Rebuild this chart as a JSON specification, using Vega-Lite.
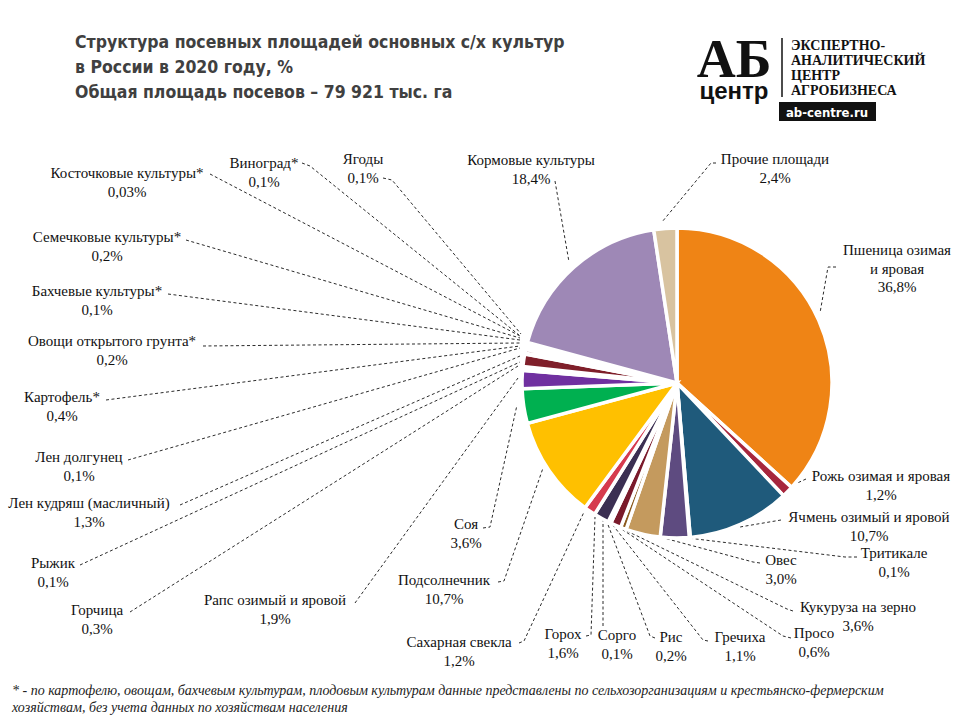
{
  "$schema": "https://vega.github.io/schema/vega-lite/v6.json",
  "width": 960,
  "height": 720,
  "autosize": {"type": "fit", "contains": "padding"},
  "padding": 0,
  "background": "white",
  "config": {"view": {"stroke": null}},
  "datasets": {
    "slices": [
      {"i": 1, "k": "Пшеница", "v": 36.8},
      {"i": 2, "k": "Рожь", "v": 1.2},
      {"i": 3, "k": "Ячмень", "v": 10.7},
      {"i": 4, "k": "Тритикале", "v": 0.1},
      {"i": 5, "k": "Овес", "v": 3.0},
      {"i": 6, "k": "Кукуруза", "v": 3.6},
      {"i": 7, "k": "Просо", "v": 0.6},
      {"i": 8, "k": "Гречиха", "v": 1.1},
      {"i": 9, "k": "Рис", "v": 0.2},
      {"i": 10, "k": "Сорго", "v": 0.1},
      {"i": 11, "k": "Горох", "v": 1.6},
      {"i": 12, "k": "Сахарная свекла", "v": 1.2},
      {"i": 13, "k": "Подсолнечник", "v": 10.7},
      {"i": 14, "k": "Соя", "v": 3.6},
      {"i": 15, "k": "Рапс", "v": 1.9},
      {"i": 16, "k": "Горчица", "v": 0.3},
      {"i": 17, "k": "Рыжик", "v": 0.1},
      {"i": 18, "k": "Лен кудряш", "v": 1.3},
      {"i": 19, "k": "Лен долгунец", "v": 0.1},
      {"i": 20, "k": "Картофель", "v": 0.4},
      {"i": 21, "k": "Овощи", "v": 0.2},
      {"i": 22, "k": "Бахчевые", "v": 0.1},
      {"i": 23, "k": "Семечковые", "v": 0.2},
      {"i": 24, "k": "Косточковые", "v": 0.03},
      {"i": 25, "k": "Виноград", "v": 0.1},
      {"i": 26, "k": "Ягоды", "v": 0.1},
      {"i": 27, "k": "Кормовые", "v": 18.4},
      {"i": 28, "k": "Прочие", "v": 2.4}
    ],
    "labels": [
      {"lx": 127, "ly": 178, "label": ["Косточковые культуры*", "0,03%"]},
      {"lx": 264, "ly": 168, "label": ["Виноград*", "0,1%"]},
      {"lx": 363, "ly": 164, "label": ["Ягоды", "0,1%"]},
      {"lx": 531, "ly": 165, "label": ["Кормовые культуры", "18,4%"]},
      {"lx": 775, "ly": 164, "label": ["Прочие площади", "2,4%"]},
      {"lx": 897, "ly": 255, "label": ["Пшеница озимая", "и яровая", "36,8%"]},
      {"lx": 881, "ly": 481, "label": ["Рожь озимая и яровая", "1,2%"]},
      {"lx": 869, "ly": 522, "label": ["Ячмень озимый и яровой", "10,7%"]},
      {"lx": 894, "ly": 558, "label": ["Тритикале", "0,1%"]},
      {"lx": 781, "ly": 565, "label": ["Овес", "3,0%"]},
      {"lx": 858, "ly": 612, "label": ["Кукуруза  на зерно", "3,6%"]},
      {"lx": 814, "ly": 638, "label": ["Просо", "0,6%"]},
      {"lx": 740, "ly": 642, "label": ["Гречиха", "1,1%"]},
      {"lx": 671, "ly": 642, "label": ["Рис", "0,2%"]},
      {"lx": 617, "ly": 640, "label": ["Сорго", "0,1%"]},
      {"lx": 563, "ly": 639, "label": ["Горох", "1,6%"]},
      {"lx": 459, "ly": 647, "label": ["Сахарная свекла", "1,2%"]},
      {"lx": 444, "ly": 585, "label": ["Подсолнечник", "10,7%"]},
      {"lx": 466, "ly": 529, "label": ["Соя", "3,6%"]},
      {"lx": 275, "ly": 605, "label": ["Рапс озимый и яровой", "1,9%"]},
      {"lx": 97, "ly": 615, "label": ["Горчица", "0,3%"]},
      {"lx": 53, "ly": 568, "label": ["Рыжик", "0,1%"]},
      {"lx": 89, "ly": 508, "label": ["Лен кудряш  (масличный)", "1,3%"]},
      {"lx": 79, "ly": 462, "label": ["Лен долгунец", "0,1%"]},
      {"lx": 62, "ly": 402, "label": ["Картофель*", "0,4%"]},
      {"lx": 112, "ly": 346, "label": ["Овощи открытого грунта*", "0,2%"]},
      {"lx": 97, "ly": 296, "label": ["Бахчевые культуры*", "0,1%"]},
      {"lx": 107, "ly": 242, "label": ["Семечковые культуры*", "0,2%"]}
    ],
    "leaders": [
      {"k": "Косточковые", "i": 1, "x": 210, "y": 174}, {"k": "Косточковые", "i": 2, "x": 520, "y": 336},
      {"k": "Виноград", "i": 1, "x": 302, "y": 163}, {"k": "Виноград", "i": 2, "x": 310, "y": 166}, {"k": "Виноград", "i": 3, "x": 519, "y": 335},
      {"k": "Ягоды", "i": 1, "x": 383, "y": 178}, {"k": "Ягоды", "i": 2, "x": 392, "y": 180}, {"k": "Ягоды", "i": 3, "x": 521, "y": 334},
      {"k": "Семечковые", "i": 1, "x": 186, "y": 240}, {"k": "Семечковые", "i": 2, "x": 520, "y": 338},
      {"k": "Бахчевые", "i": 1, "x": 168, "y": 294}, {"k": "Бахчевые", "i": 2, "x": 520, "y": 340},
      {"k": "Овощи", "i": 1, "x": 203, "y": 346}, {"k": "Овощи", "i": 2, "x": 520, "y": 343},
      {"k": "Картофель", "i": 1, "x": 106, "y": 400}, {"k": "Картофель", "i": 2, "x": 520, "y": 346},
      {"k": "Лен долгунец", "i": 1, "x": 128, "y": 460}, {"k": "Лен долгунец", "i": 2, "x": 520, "y": 348},
      {"k": "Лен кудряш", "i": 1, "x": 180, "y": 505}, {"k": "Лен кудряш", "i": 2, "x": 520, "y": 356},
      {"k": "Рыжик", "i": 1, "x": 80, "y": 565}, {"k": "Рыжик", "i": 2, "x": 520, "y": 362},
      {"k": "Горчица", "i": 1, "x": 130, "y": 612}, {"k": "Горчица", "i": 2, "x": 518, "y": 366},
      {"k": "Рапс", "i": 1, "x": 355, "y": 603}, {"k": "Рапс", "i": 2, "x": 518, "y": 378},
      {"k": "Соя", "i": 1, "x": 483, "y": 528}, {"k": "Соя", "i": 2, "x": 490, "y": 527}, {"k": "Соя", "i": 3, "x": 517, "y": 405},
      {"k": "Подсолнечник", "i": 1, "x": 498, "y": 582}, {"k": "Подсолнечник", "i": 2, "x": 504, "y": 581}, {"k": "Подсолнечник", "i": 3, "x": 543, "y": 468},
      {"k": "Сахарная свекла", "i": 1, "x": 519, "y": 643}, {"k": "Сахарная свекла", "i": 2, "x": 524, "y": 641}, {"k": "Сахарная свекла", "i": 3, "x": 584, "y": 512},
      {"k": "Горох", "i": 1, "x": 586, "y": 636}, {"k": "Горох", "i": 2, "x": 591, "y": 635}, {"k": "Горох", "i": 3, "x": 595, "y": 517},
      {"k": "Сорго", "i": 1, "x": 603, "y": 626}, {"k": "Сорго", "i": 2, "x": 603, "y": 520},
      {"k": "Рис", "i": 1, "x": 655, "y": 638}, {"k": "Рис", "i": 2, "x": 650, "y": 636}, {"k": "Рис", "i": 3, "x": 607, "y": 522},
      {"k": "Гречиха", "i": 1, "x": 708, "y": 641}, {"k": "Гречиха", "i": 2, "x": 703, "y": 640}, {"k": "Гречиха", "i": 3, "x": 612, "y": 524},
      {"k": "Просо", "i": 1, "x": 791, "y": 638}, {"k": "Просо", "i": 2, "x": 783, "y": 636}, {"k": "Просо", "i": 3, "x": 617, "y": 526},
      {"k": "Кукуруза", "i": 1, "x": 793, "y": 611}, {"k": "Кукуруза", "i": 2, "x": 787, "y": 609}, {"k": "Кукуруза", "i": 3, "x": 625, "y": 530},
      {"k": "Овес", "i": 1, "x": 760, "y": 563}, {"k": "Овес", "i": 2, "x": 753, "y": 562}, {"k": "Овес", "i": 3, "x": 660, "y": 537},
      {"k": "Тритикале", "i": 1, "x": 857, "y": 557}, {"k": "Тритикале", "i": 2, "x": 845, "y": 557}, {"k": "Тритикале", "i": 3, "x": 688, "y": 538},
      {"k": "Ячмень", "i": 1, "x": 781, "y": 520}, {"k": "Ячмень", "i": 2, "x": 740, "y": 527},
      {"k": "Рожь", "i": 1, "x": 806, "y": 479}, {"k": "Рожь", "i": 2, "x": 793, "y": 485},
      {"k": "Пшеница", "i": 1, "x": 836, "y": 267}, {"k": "Пшеница", "i": 2, "x": 828, "y": 267}, {"k": "Пшеница", "i": 3, "x": 820, "y": 313},
      {"k": "Прочие", "i": 1, "x": 716, "y": 163}, {"k": "Прочие", "i": 2, "x": 711, "y": 163}, {"k": "Прочие", "i": 3, "x": 662, "y": 222},
      {"k": "Кормовые", "i": 1, "x": 555, "y": 181}, {"k": "Кормовые", "i": 2, "x": 569, "y": 262}
    ],
    "title": [
      {"x": 75, "y": 48, "t": "Структура  посевных площадей основных  с/х культур"},
      {"x": 75, "y": 73, "t": "в России в 2020 году, %"},
      {"x": 75, "y": 98, "t": "Общая  площадь посевов – 79 921 тыс. га"}
    ],
    "logoLines": [
      {"x": 791, "y": 50, "t": "ЭКСПЕРТНО-"},
      {"x": 791, "y": 65, "t": "АНАЛИТИЧЕСКИЙ"},
      {"x": 791, "y": 80, "t": "ЦЕНТР"},
      {"x": 791, "y": 95, "t": "АГРОБИЗНЕСА"}
    ],
    "notes": [
      {"x": 12, "y": 695, "t": "* - по картофелю, овощам, бахчевым культурам, плодовым культурам данные представлены по сельхозорганизациям и крестьянско-фермерским"},
      {"x": 12, "y": 712, "t": "хозяйствам, без учета данных по хозяйствам населения"}
    ]
  },
  "layer": [
    {
      "data": {"name": "leaders"},
      "mark": {"type": "line", "stroke": "#2b2b2b", "strokeWidth": 1, "strokeDash": [3, 2.5]},
      "encoding": {
        "x": {"field": "x", "type": "quantitative", "scale": {"domain": [0, 960], "nice": false, "zero": false}, "axis": null},
        "y": {"field": "y", "type": "quantitative", "scale": {"domain": [0, 720], "nice": false, "zero": false, "reverse": true}, "axis": null},
        "detail": {"field": "k", "type": "nominal"},
        "order": {"field": "i", "type": "quantitative"}
      }
    },
    {
      "data": {"name": "slices"},
      "mark": {"type": "arc", "radius": 155, "stroke": "white", "strokeWidth": 3.5},
      "encoding": {
        "x": {"datum": 677, "type": "quantitative"},
        "y": {"datum": 383, "type": "quantitative"},
        "theta": {"field": "v", "type": "quantitative", "stack": true},
        "order": {"field": "i", "type": "quantitative"},
        "color": {
          "field": "k", "type": "nominal", "legend": null,
          "scale": {
            "domain": ["Пшеница", "Рожь", "Ячмень", "Тритикале", "Овес", "Кукуруза", "Просо", "Гречиха", "Рис", "Сорго", "Горох", "Сахарная свекла", "Подсолнечник", "Соя", "Рапс", "Горчица", "Рыжик", "Лен кудряш", "Лен долгунец", "Картофель", "Овощи", "Бахчевые", "Семечковые", "Косточковые", "Виноград", "Ягоды", "Кормовые", "Прочие"],
            "range": ["#EF8415", "#A7263D", "#1F5A7B", "#4F81BD", "#5E4B80", "#C49A5E", "#8B5A1E", "#7A1A2B", "#A5A5A5", "#808000", "#3B2F52", "#D63B4E", "#FFC000", "#00B050", "#7030A0", "#FFD966", "#C00000", "#7F1F2A", "#2E75B6", "#7B2C3A", "#92D050", "#F4B183", "#A9D18E", "#8FAADC", "#7F6084", "#C55A11", "#9E88B6", "#D8C3A0"]
          }
        }
      }
    },
    {
      "data": {"name": "labels"},
      "mark": {"type": "text", "font": "Liberation Serif, Times New Roman, serif", "fontSize": 15, "lineHeight": 18.5, "align": "center", "baseline": "alphabetic", "color": "#111111"},
      "encoding": {
        "x": {"field": "lx", "type": "quantitative"},
        "y": {"field": "ly", "type": "quantitative"},
        "text": {"field": "label"}
      }
    },
    {
      "data": {"name": "title"},
      "mark": {"type": "text", "font": "Liberation Sans Narrow, DejaVu Sans Condensed, Roboto Condensed, Liberation Sans, sans-serif", "fontWeight": "bold", "fontSize": 17.5, "align": "left", "baseline": "alphabetic", "color": "#404040"},
      "encoding": {
        "x": {"field": "x", "type": "quantitative"},
        "y": {"field": "y", "type": "quantitative"},
        "text": {"field": "t"}
      }
    },
    {
      "data": {"values": [{"x": 734, "y": 77, "t": "АБ"}]},
      "mark": {"type": "text", "font": "Liberation Serif, serif", "fontWeight": "bold", "fontSize": 54, "align": "center", "baseline": "alphabetic", "color": "#111111"},
      "encoding": {
        "x": {"field": "x", "type": "quantitative"},
        "y": {"field": "y", "type": "quantitative"},
        "text": {"field": "t"}
      }
    },
    {
      "data": {"values": [{"x": 734, "y": 99, "t": "центр"}]},
      "mark": {"type": "text", "font": "Liberation Sans, sans-serif", "fontWeight": "bold", "fontSize": 24, "align": "center", "baseline": "alphabetic", "color": "#111111"},
      "encoding": {
        "x": {"field": "x", "type": "quantitative"},
        "y": {"field": "y", "type": "quantitative"},
        "text": {"field": "t"}
      }
    },
    {
      "data": {"values": [{"x": 782, "y": 38, "y2": 97}]},
      "mark": {"type": "rule", "color": "#111111", "strokeWidth": 1.5},
      "encoding": {
        "x": {"field": "x", "type": "quantitative"},
        "y": {"field": "y", "type": "quantitative"},
        "y2": {"field": "y2"}
      }
    },
    {
      "data": {"name": "logoLines"},
      "mark": {"type": "text", "font": "Liberation Serif, serif", "fontWeight": "bold", "fontSize": 14, "align": "left", "baseline": "alphabetic", "color": "#111111"},
      "encoding": {
        "x": {"field": "x", "type": "quantitative"},
        "y": {"field": "y", "type": "quantitative"},
        "text": {"field": "t"}
      }
    },
    {
      "data": {"values": [{"x": 779, "x2": 876, "y": 102, "y2": 121}]},
      "mark": {"type": "rect", "color": "#111111"},
      "encoding": {
        "x": {"field": "x", "type": "quantitative"},
        "x2": {"field": "x2"},
        "y": {"field": "y", "type": "quantitative"},
        "y2": {"field": "y2"}
      }
    },
    {
      "data": {"values": [{"x": 827, "y": 117, "t": "ab-centre.ru"}]},
      "mark": {"type": "text", "font": "Liberation Sans Narrow, DejaVu Sans Condensed, Liberation Sans, sans-serif", "fontWeight": "bold", "fontSize": 13, "align": "center", "baseline": "alphabetic", "color": "white"},
      "encoding": {
        "x": {"field": "x", "type": "quantitative"},
        "y": {"field": "y", "type": "quantitative"},
        "text": {"field": "t"}
      }
    },
    {
      "data": {"name": "notes"},
      "mark": {"type": "text", "font": "Liberation Serif, serif", "fontStyle": "italic", "fontSize": 14, "align": "left", "baseline": "alphabetic", "color": "#222222"},
      "encoding": {
        "x": {"field": "x", "type": "quantitative"},
        "y": {"field": "y", "type": "quantitative"},
        "text": {"field": "t"}
      }
    }
  ]
}
